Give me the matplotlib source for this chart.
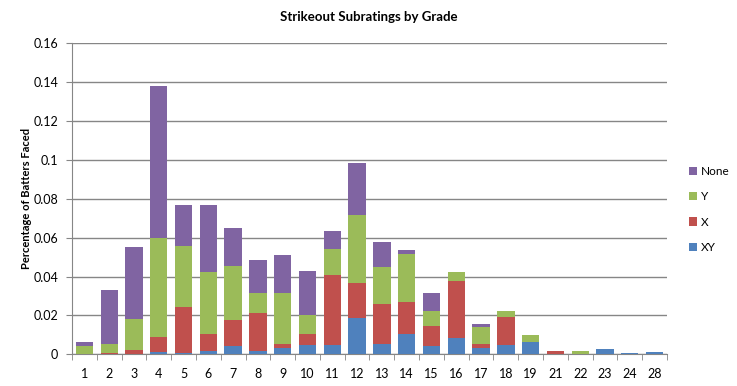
import matplotlib
matplotlib.use("Agg")
import matplotlib.pyplot as plt
import numpy as np
from matplotlib.ticker import FixedLocator, NullFormatter

grades = ["1","2","3","4","5","6","7","8","9","10","11","12","13","14","15","16","17","18","19","21","22","23","24","28"]
xy   = [0.0,    0.0,    0.0003, 0.0014, 0.0007, 0.0017, 0.0045, 0.0017, 0.0034, 0.0048, 0.0048, 0.0189, 0.0053, 0.0105, 0.0043, 0.0084, 0.0033, 0.0048, 0.0063, 0.0,    0.0,    0.0027, 0.0009, 0.0012]
x    = [0.0,    0.0007, 0.0019, 0.0075, 0.0237, 0.0088, 0.0132, 0.0196, 0.0019, 0.0057, 0.0360, 0.0178, 0.0206, 0.0164, 0.0103, 0.0293, 0.0020, 0.0144, 0.0,    0.0017, 0.0,    0.0,    0.0,    0.0]
y    = [0.0043, 0.0046, 0.0160, 0.0510, 0.0314, 0.0319, 0.0278, 0.0103, 0.0263, 0.0097, 0.0134, 0.0350, 0.0190, 0.0247, 0.0077, 0.0047, 0.0088, 0.0031, 0.0037, 0.0,    0.0017, 0.0,    0.0,    0.0]
none = [0.0020, 0.0278, 0.0370, 0.0782, 0.0211, 0.0345, 0.0195, 0.0170, 0.0195, 0.0227, 0.0093, 0.0268, 0.0129, 0.0021, 0.0093, 0.0,    0.0015, 0.0,    0.0,    0.0,    0.0,    0.0,    0.0,    0.0]
series_names = ["XY", "X", "Y", "None"]
colors = ["#4F81BD", "#C0504D", "#9BBB59", "#8064A2"]
yticks = [0, 0.02, 0.04, 0.06, 0.08, 0.1, 0.12, 0.14, 0.16]
ytick_labels = ["0", "0.02", "0.04", "0.06", "0.08", "0.1", "0.12", "0.14", "0.16"]

plt.rcParams['font.family'] = ['Lato', 'DejaVu Sans']

fig = plt.figure(figsize=(7.37, 3.86), dpi=100)
ax = fig.add_axes([72/737, 1 - 354.3/386, (667-72)/737, (354.3-43.4)/386])

pos = np.arange(len(grades))
bottom = np.zeros(len(grades))
handles = []
for name, vals, c in zip(series_names, [xy, x, y, none], colors):
    vals = np.array(vals)
    h = ax.bar(pos, vals, width=0.7, bottom=bottom, color=c, label=name, zorder=3)
    handles.append(h)
    bottom += vals

ax.set_xlim(-0.5, len(grades) - 0.5)
ax.set_ylim(0, 0.16)
ax.set_yticks(yticks)
ax.set_yticklabels(ytick_labels)
ax.yaxis.grid(True, color="#868686", linewidth=1, zorder=0)
ax.set_axisbelow(True)

ax.set_xticks(pos)
ax.set_xticklabels(grades)
ax.tick_params(axis='x', which='major', length=0, labelsize=9, pad=10)
ax.xaxis.set_minor_locator(FixedLocator(np.arange(-0.5, len(grades), 1.0)))
ax.xaxis.set_minor_formatter(NullFormatter())
ax.tick_params(axis='x', which='minor', length=4, color="#868686", direction='out')
ax.tick_params(axis='y', length=4, color="#868686", labelsize=9, pad=6)

for s in ["top", "right"]:
    ax.spines[s].set_visible(False)
for s in ["left", "bottom"]:
    ax.spines[s].set_color("#868686")

ax.set_ylabel("Percentage of Batters Faced", fontsize=8, fontweight='bold', labelpad=1)
fig.text(369/737, 1 - 17/386, "Strikeout Subratings by Grade", ha='center', va='center',
         fontsize=9.5, fontweight='bold')

leg = fig.legend(handles[::-1], series_names[::-1], loc='upper left',
                 bbox_to_anchor=(683/737, 1 - 160/386), frameon=False,
                 fontsize=8.5, handlelength=0.7, handleheight=0.7,
                 handletextpad=0.3, labelspacing=1.22, borderpad=0)

fig.savefig("out.png", dpi=100)
